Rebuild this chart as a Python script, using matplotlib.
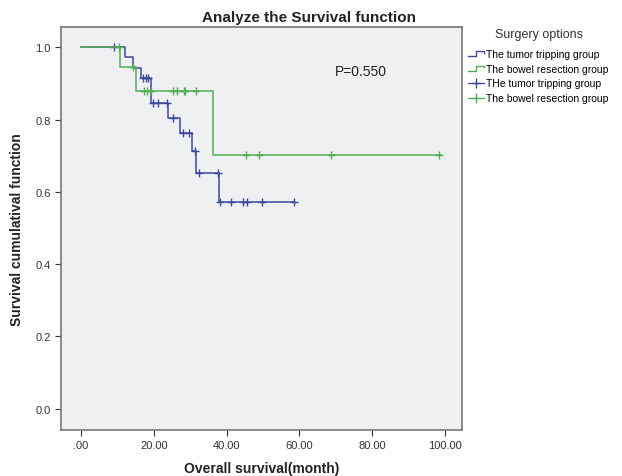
import numpy as np
import matplotlib
matplotlib.use('Agg')
import matplotlib.pyplot as plt
from matplotlib.lines import Line2D
from matplotlib.legend_handler import HandlerBase

plt.rcParams['font.family'] = ['Liberation Sans', 'DejaVu Sans']

# Kaplan-Meier curves
tumor_times = [0, 12.0, 14.4, 16.4, 19.1, 23.9, 27.1, 30.5, 31.6, 37.9]
tumor_surv = [1.0, 0.972, 0.944, 0.914, 0.845, 0.805, 0.764, 0.712, 0.653, 0.571]
tumor_end = 58.6
tumor_censor = [9.2, 17.1, 17.8, 18.4, 19.7, 21.2, 23.5, 25.3, 27.9, 29.6,
                31.3, 32.4, 37.7, 38.3, 41.2, 44.6, 45.5, 49.7, 58.6]

bowel_times = [0, 10.6, 15.1, 36.4]
bowel_surv = [1.0, 0.945, 0.878, 0.702]
bowel_end = 98.8
bowel_censor = [10.4, 14.3, 17.2, 18.1, 19.2, 25.3, 26.3, 28.3, 28.6, 31.5,
                45.2, 48.9, 68.7, 98.4]

x_ticks = [0, 20, 40, 60, 80, 100]
x_tick_labels = ['.00', '20.00', '40.00', '60.00', '80.00', '100.00']
y_ticks = [0.0, 0.2, 0.4, 0.6, 0.8, 1.0]

blue = '#3d4a9c'
green = '#52ad56'


def surv_at(times, surv, t):
    idx = np.searchsorted(times, t, side='right') - 1
    return np.array(surv)[idx]


class StepHandler(HandlerBase):
    def create_artists(self, legend, orig_handle, xdescent, ydescent,
                       width, height, fontsize, trans):
        lo = height * 0.15 - ydescent
        hi = height * 0.85 - ydescent
        x0 = -xdescent
        xs = [x0, x0 + width * 0.5, x0 + width * 0.5, x0 + width, x0 + width]
        ys = [lo, lo, hi, hi, hi - height * 0.25]
        line = Line2D(xs, ys, color=orig_handle.get_color(), lw=1.0,
                      transform=trans)
        return [line]


fig = plt.figure(figsize=(6.22, 4.77), dpi=100)
ax = fig.add_axes([0.098, 0.097, 0.645, 0.844])
ax.set_facecolor('#eff0f2')

for times, surv, end, cens, col in [
        (tumor_times, tumor_surv, tumor_end, tumor_censor, blue),
        (bowel_times, bowel_surv, bowel_end, bowel_censor, green)]:
    xs = list(times) + [end]
    ys = list(surv) + [surv[-1]]
    ax.step(xs, ys, where='post', color=col, lw=1.1)
    ax.plot(cens, surv_at(times, surv, cens), linestyle='none', marker='+',
            color=col, markersize=6, markeredgewidth=1.0)

ax.set_xlim(-5.5, 104.7)
ax.set_ylim(-0.058, 1.056)
ax.set_xticks(x_ticks)
ax.set_xticklabels(x_tick_labels)
ax.set_yticks(y_ticks)
ax.set_yticklabels([f'{v:.1f}' for v in y_ticks])
ax.tick_params(direction='out', length=4, width=0.8, labelsize=8,
               colors='#333333')
for s in ax.spines.values():
    s.set_color('#777777')
    s.set_linewidth(1.2)

ax.set_xlabel('Overall survival(month)', fontsize=10, fontweight='bold',
              labelpad=8, color='#222222')
ax.set_ylabel('Survival cumulatival function', fontsize=10, fontweight='bold',
              labelpad=8, color='#222222')
fig.text(0.497, 0.963, 'Analyze the Survival function', ha='center',
         va='center', fontsize=11, fontweight='bold', color='#222222')
ax.text(69.8, 0.934, 'P=0.550', fontsize=10, va='center', ha='left',
        color='#222222')

fig.text(0.866, 0.927, 'Surgery options', ha='center', va='center',
         fontsize=9, color='#333333')
step_tumor = Line2D([], [], color=blue)
step_bowel = Line2D([], [], color=green)
cens_tumor = Line2D([], [], color=blue, marker='+', markersize=7, lw=0.9)
cens_bowel = Line2D([], [], color=green, marker='+', markersize=7, lw=0.9)
leg = fig.legend([step_tumor, step_bowel, cens_tumor, cens_bowel],
                 ['The tumor tripping group', 'The bowel resection group',
                  'THe tumor tripping group', 'The bowel resection group'],
                 loc='upper left',
                 bbox_to_anchor=(0.752, 0.895), frameon=False, fontsize=7.5,
                 handlelength=1.55, handletextpad=0.2,
                 labelspacing=0.45, borderaxespad=0, borderpad=0,
                 handler_map={step_tumor: StepHandler(),
                              step_bowel: StepHandler()})

fig.savefig('out.png', dpi=100)
